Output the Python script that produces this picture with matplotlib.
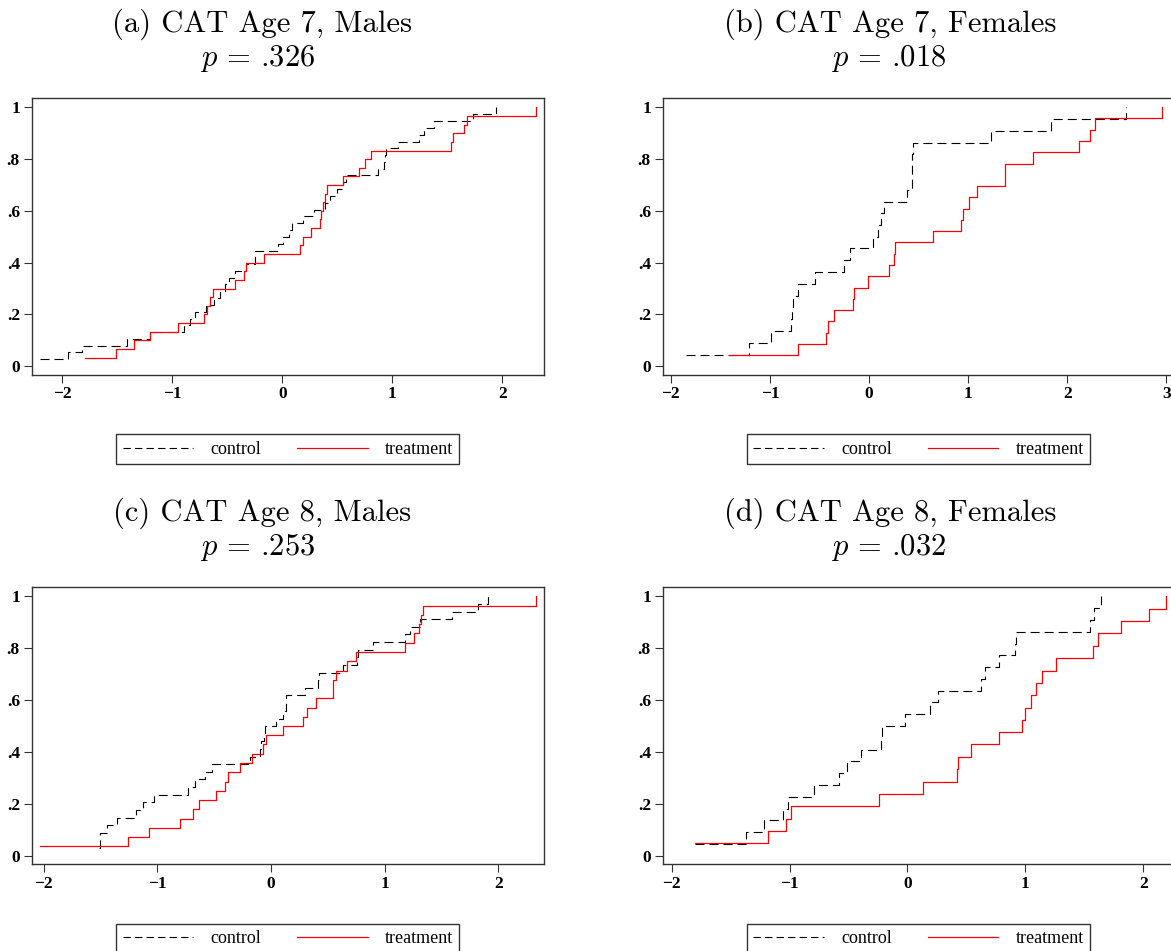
import matplotlib
matplotlib.use('Agg')
import matplotlib.pyplot as plt
from matplotlib.lines import Line2D

plt.rcParams['mathtext.fontset'] = 'cm'
plt.rcParams['lines.scale_dashes'] = False
plt.rcParams['axes.unicode_minus'] = True

# ---------------- data ----------------
titles = ["(a) CAT Age 7, Males", "(b) CAT Age 7, Females",
          "(c) CAT Age 8, Males", "(d) CAT Age 8, Females"]
p_values = [".326", ".018", ".253", ".032"]
legend_labels = ["control", "treatment"]
yticks = [0, 0.2, 0.4, 0.6, 0.8, 1.0]
ytick_labels = ["0", ".2", ".4", ".6", ".8", "1"]

# (a) Age 7 males
a_ctrl_x = [-2.20, -1.945, -1.815, -1.406, -1.205, -0.89, -0.84, -0.79, -0.69, -0.62,
            -0.57, -0.52, -0.48, -0.43, -0.33, -0.25, -0.245, -0.04, 0.01, 0.06,
            0.09, 0.19, 0.29, 0.39, 0.43, 0.50, 0.55, 0.58, 0.87, 0.92,
            0.93, 0.94, 1.05, 1.24, 1.29, 1.38, 1.73, 1.94]
a_ctrl_y = [.026, .053, .079, .105, .132, .158, .184, .211, .237, .263,
            .289, .316, .342, .368, .395, .421, .447, .474, .500, .526,
            .553, .579, .605, .632, .658, .684, .711, .737, .763, .789,
            .816, .842, .868, .895, .921, .947, .974, 1.0]
a_trt_x = [-1.79, -1.51, -1.35, -1.20, -0.945, -0.71, -0.685, -0.66, -0.63, -0.425,
           -0.35, -0.33, -0.17, 0.165, 0.19, 0.265, 0.345, 0.35, 0.37, 0.39,
           0.41, 0.55, 0.70, 0.755, 0.81, 1.53, 1.55, 1.65, 1.68, 2.30]
a_trt_y = [.033, .067, .100, .133, .167, .200, .233, .267, .300, .333,
           .367, .400, .433, .467, .500, .533, .567, .600, .633, .667,
           .700, .733, .767, .800, .833, .867, .900, .933, .967, 1.0]

# (b) Age 7 females
b_ctrl_x = [-1.85, -1.21, -0.99, -0.79, -0.78, -0.77, -0.72, -0.55, -0.25, -0.19,
            0.04, 0.09, 0.12, 0.15, 0.38, 0.43, 0.43, 0.43, 0.44, 1.23,
            1.84, 2.59]
b_ctrl_y = [.045, .091, .136, .182, .227, .273, .318, .364, .409, .455,
            .500, .545, .591, .636, .682, .727, .773, .818, .864, .909,
            .955, 1.0]
b_trt_x = [-1.41, -0.72, -0.43, -0.41, -0.35, -0.16, -0.155, -0.015, 0.20, 0.255,
           0.26, 0.645, 0.925, 0.95, 1.005, 1.09, 1.37, 1.375, 1.65, 2.12,
           2.23, 2.285, 2.955]
b_trt_y = [.043, .087, .130, .174, .217, .261, .304, .348, .391, .435,
           .478, .522, .565, .609, .652, .696, .739, .783, .826, .870,
           .913, .957, 1.0]

# (c) Age 8 males
c_ctrl_x = [-1.51, -1.505, -1.50, -1.44, -1.355, -1.19, -1.125, -1.025, -0.73, -0.67,
            -0.58, -0.52, -0.185, -0.10, -0.09, -0.06, -0.05, 0.045, 0.11, 0.13,
            0.135, 0.30, 0.41, 0.42, 0.63, 0.76, 0.77, 0.90, 1.18, 1.22,
            1.31, 1.59, 1.82, 1.91]
c_ctrl_y = [.029, .059, .088, .118, .147, .176, .206, .235, .265, .294,
            .324, .353, .382, .412, .441, .471, .500, .529, .559, .588,
            .618, .647, .676, .706, .735, .765, .794, .824, .853, .882,
            .912, .941, .971, 1.0]
c_trt_x = [-2.03, -1.26, -1.07, -0.80, -0.69, -0.63, -0.48, -0.40, -0.38, -0.27,
           -0.17, -0.07, -0.04, 0.11, 0.28, 0.32, 0.40, 0.545, 0.55, 0.57,
           0.67, 0.75, 1.18, 1.255, 1.30, 1.32, 1.34, 2.33]
c_trt_y = [.036, .071, .107, .143, .179, .214, .250, .286, .321, .357,
           .393, .429, .464, .500, .536, .571, .607, .643, .679, .714,
           .750, .786, .821, .857, .893, .929, .964, 1.0]

# (d) Age 8 females
d_ctrl_x = [-1.80, -1.37, -1.22, -1.055, -1.01, -0.79, -0.58, -0.51, -0.39, -0.225,
            -0.22, -0.025, 0.19, 0.26, 0.62, 0.66, 0.78, 0.91, 0.92, 1.545,
            1.585, 1.645]
d_ctrl_y = [.045, .091, .136, .182, .227, .273, .318, .364, .409, .455,
            .500, .545, .591, .636, .682, .727, .773, .818, .864, .909,
            .955, 1.0]
d_trt_x = [-1.80, -1.18, -1.03, -0.99, -0.245, 0.135, 0.42, 0.425, 0.54, 0.78,
           0.975, 1.00, 1.045, 1.09, 1.145, 1.26, 1.57, 1.615, 1.81, 2.045,
           2.195]
d_trt_y = [.048, .095, .143, .190, .238, .286, .333, .381, .429, .476,
           .524, .571, .619, .667, .714, .762, .810, .857, .905, .952,
           1.0]

xticks_a = [-2, -1, 0, 1, 2]
xticks_b = [-2, -1, 0, 1, 2, 3]
xticks_c = [-2, -1, 0, 1, 2]
xticks_d = [-2, -1, 0, 1, 2]

# ---------------- layout (pixels) ----------------
W, H = 1171, 951
fig = plt.figure(figsize=(W / 100, H / 100), dpi=100)

TICK_FONT = dict(family='Liberation Serif', size=12.5, weight='bold')
SPINE = '#333333'
TITLE_SIZE = 22

panels = [
    dict(box=(31.7, 98.3, 544.0, 374.5), xlim=(-2.276, 2.377), xt=xticks_a,
         cx=a_ctrl_x, cy=a_ctrl_y, tx=a_trt_x, ty=a_trt_y,
         tpos=(261.7, 32, 257.5, 66), leg=(287.8, 449.2)),
    dict(box=(662.7, 98.3, 1175.0, 374.5), xlim=(-2.082, 3.088), xt=xticks_b,
         cx=b_ctrl_x, cy=b_ctrl_y, tx=b_trt_x, ty=b_trt_y,
         tpos=(890, 32, 888.5, 66), leg=(918.5, 449.2)),
    dict(box=(31.7, 587.3, 544.0, 864.0), xlim=(-2.105, 2.403), xt=xticks_c,
         cx=c_ctrl_x, cy=c_ctrl_y, tx=c_trt_x, ty=c_trt_y,
         tpos=(261.7, 521, 257.5, 555), leg=(287.8, 938.5)),
    dict(box=(662.7, 587.3, 1175.0, 864.0), xlim=(-2.076, 2.269), xt=xticks_d,
         cx=d_ctrl_x, cy=d_ctrl_y, tx=d_trt_x, ty=d_trt_y,
         tpos=(890, 521, 888.5, 555), leg=(918.5, 938.5)),
]

for i, p in enumerate(panels):
    l, t, r, b = p['box']
    ax = fig.add_axes([l / W, 1 - b / H, (r - l) / W, (b - t) / H])
    ax.step(p['cx'], p['cy'], where='post', color='black', lw=0.8,
            linestyle=(0, (6.5, 3.6)))
    ax.step(p['tx'], p['ty'], where='post', color='#ff0000', lw=0.9)
    ax.set_xlim(*p['xlim'])
    ax.set_ylim(-0.032, 1.035)
    ax.set_xticks(p['xt'])
    ax.set_xticklabels([('\u2212%d' % -v) if v < 0 else '%d' % v for v in p['xt']],
                       fontdict=TICK_FONT)
    ax.set_yticks(yticks)
    ax.set_yticklabels(ytick_labels, fontdict=TICK_FONT)
    ax.tick_params(direction='out', length=5.5, width=0.8, color=SPINE, pad=3)
    for s in ax.spines.values():
        s.set_color(SPINE)
        s.set_linewidth(1.0)

    x1, y1, x2, y2 = p['tpos']
    fig.text(x1 / W, 1 - y1 / H, titles[i], family='cmr10',
             ha='center', va='baseline', fontsize=TITLE_SIZE)
    fig.text(x2 / W, 1 - y2 / H, r'$p$ = ' + p_values[i], family='cmr10',
             ha='center', va='baseline', fontsize=TITLE_SIZE)

    h_ctrl = Line2D([], [], color='black', lw=0.8, linestyle=(0, (5.3, 3.0)))
    h_trt = Line2D([], [], color='#ff0000', lw=0.9)
    lx, ly = p['leg']
    leg = fig.legend([h_ctrl, h_trt], legend_labels, loc='center',
                     bbox_to_anchor=(lx / W, 1 - ly / H), ncol=2,
                     prop=dict(family='Liberation Serif', size=13),
                     frameon=True, fancybox=False, shadow=False,
                     handlelength=3.9, handletextpad=0.95, columnspacing=2.0,
                     borderpad=0.35, borderaxespad=0, handleheight=0.6)
    fr = leg.get_frame()
    fr.set_edgecolor(SPINE)
    fr.set_linewidth(1.0)
    fr.set_alpha(1)

fig.savefig('out.png', dpi=100)
